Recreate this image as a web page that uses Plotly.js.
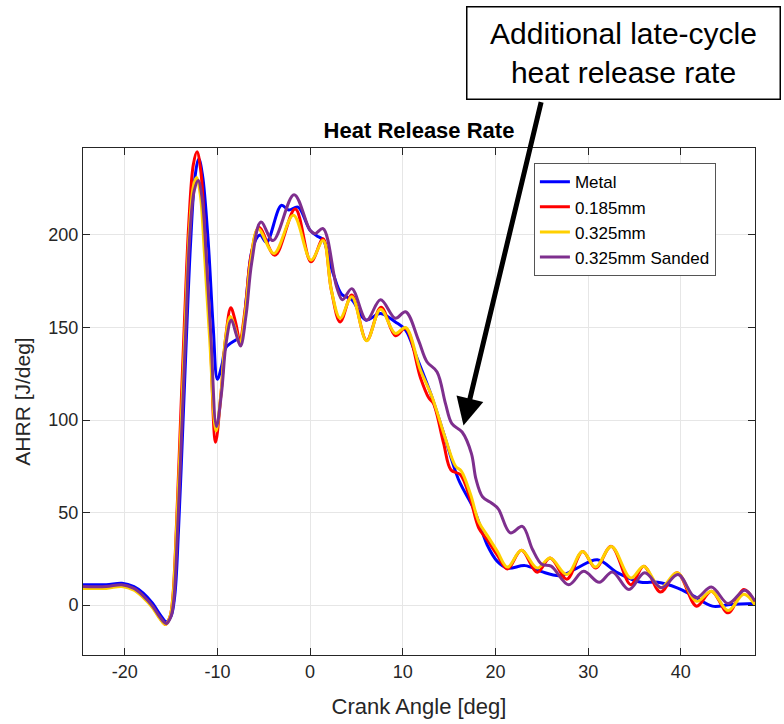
<!DOCTYPE html>
<html>
<head>
<meta charset="utf-8">
<script src="https://cdn.plot.ly/plotly-3.0.1.min.js"></script>
<style>
  html, body { margin: 0; padding: 0; background: #ffffff; }
  #chart { width: 784px; height: 724px; }
</style>
</head>
<body>
<div id="chart"></div>
<script>
// ---- Data ----
const seriesNames = ["Metal", "0.185mm", "0.325mm", "0.325mm Sanded"];

const metalX = [-24.5,-22,-20.3,-19,-18,-17,-16.2,-15.5,-15.0,-14.6,-14.2,-13.7,-13.3,-12.9,-12.4,-12.0,-11.6,-11.0,-10.45,-10.0,-9.5,-9.1,-8.1,-7.4,-6.9,-6.2,-5.4,-4.7,-3.1,-2.3,-1.3,0,0.9,1.4,2.5,3.4,4.5,6.0,7.6,9.2,10.3,11.5,13.0,14.4,16.0,17.7,19.1,20.2,21.3,23.2,24.9,27.0,28.8,31.0,33.2,35.7,37.5,39.6,41.4,43.4,45.4,48];
const metalY = [11,11,11.8,10,6.5,1,-5,-9,-6,5,40,100,150,195,232,241,232,197,150,122,130,139,143,145,165,193,200,196,216,213.5,215,202.5,199,197.5,179,168,165,154,157.6,153,148.6,134,114.5,93,68,51.5,32.6,23.6,20,21.3,18.2,15.9,20,24.5,17.4,12.3,12.3,9.3,4.8,-0.6,0.3,0.8];

const redX = [-24.5,-22,-20.3,-19,-18,-17,-16.2,-15.6,-15.1,-14.8,-14.4,-13.9,-13.5,-13.1,-12.6,-12.2,-11.8,-11.35,-10.8,-10.2,-9.6,-9.1,-8.55,-8.0,-7.6,-7.0,-6.4,-5.5,-3.8,-1.6,0.1,1.4,2.3,3.25,4.5,6.1,7.65,9.2,10.3,11.9,12.8,13.3,14.4,15.2,16.2,17.3,18.2,19.1,20.2,21.3,22.8,24.5,25.9,27.7,29.4,30.8,32.5,34.6,36.0,37.8,39.6,41.7,43.3,45.1,46.8,48];
const redY = [9.5,9.5,10.5,8.5,4.5,-1,-7,-10.5,-6,5,45,110,160,205,238,245,235,200,150,88,115,145,160.6,152,143,160,188,204,189,214,185.5,198,170,153,167.5,143,161,145.5,149.5,123,112,109,87.5,73,70.5,57,41.6,35.3,27,19.5,29.6,17.7,25.4,14,29,20,31.7,11,21,7,17.4,-0.6,7.5,-4.2,8.4,1.5];

const yelX = [-24.5,-22,-20.3,-19,-18,-17,-16.2,-15.6,-15.1,-14.8,-14.4,-13.85,-13.45,-13.05,-12.6,-12.25,-11.85,-11.4,-10.85,-10.15,-9.6,-9.15,-8.6,-8.0,-7.6,-7.0,-6.4,-5.6,-3.9,-1.8,0.1,1.4,2.3,3.25,4.5,6.1,7.6,9.2,10.3,11.9,13.15,14.6,15.7,16.3,17.3,18.2,19.2,20.2,21.3,22.8,24.5,25.9,27.7,29.4,30.8,32.5,34.6,36.0,37.8,39.6,41.7,43.3,45.1,46.8,48];
const yelY = [9,9,10,8,4,-1.5,-7.5,-10.5,-6,4,42,105,155,200,226,231,222,190,145,94,115,143,156,148,141,158,186,203.4,190,210.6,186.4,197,170,155,166.6,142.8,159.8,146.8,150,127,112.6,90,75,72.5,60,45,37,29,20.5,29.6,20,25.4,16.5,29,20.5,31.7,14.6,21,9.3,17.4,2,7.5,-3,5.8,0];

const purX = [-24.5,-22,-20.3,-19,-18,-17,-16.2,-15.5,-15.0,-14.7,-14.3,-13.8,-13.4,-13.0,-12.5,-12.07,-11.65,-11.2,-10.7,-10.1,-9.55,-9.05,-8.5,-7.95,-7.5,-6.9,-6.3,-5.3,-4.0,-1.73,0,0.54,1.4,2.86,3.5,4.5,6.1,7.6,9.2,10.3,11.7,12.6,13.7,14.6,15.3,16.4,17.4,17.9,18.6,19.6,20.3,21.6,22.9,24.0,25.0,26.0,27.9,29.5,31.2,32.6,34.4,36.1,37.9,39.7,41.6,43.3,45.1,46.9,48];
const purY = [10,10,11,9,5,-0.5,-6.5,-10,-6,3,40,100,150,198,224,229.5,220,188,145,96.5,115,142,154,146,140,157,185,207,197,221.8,202.5,200.7,203.4,172,165,171,154,165,155,158.5,143,131.5,126,109,98,93.5,82,68,58.5,55,52,39,42.5,30,22,21,11,18.2,12.3,17.9,8.4,17.4,9.3,16.5,3.9,9.8,0.8,8,2];

const xTicks = [-20, -10, 0, 10, 20, 30, 40];
const yTicks = [0, 50, 100, 150, 200];

const titleText = "Heat Release Rate";
const xTitle = "Crank Angle [deg]";
const yTitle = "AHRR [J/deg]";
const noteText = "Additional late-cycle<br>heat release rate";
const noteTip = [16.55, 97];

// ---- Chart ----
const FONT = "Arial, 'Liberation Sans', Helvetica, sans-serif";
const colors = ["#0000FF", "#FF0000", "#FFD000", "#7E2F8E"];
const xs = [metalX, redX, yelX, purX];
const ys = [metalY, redY, yelY, purY];

const traces = seriesNames.map((n, i) => ({
  type: "scatter",
  mode: "lines",
  name: n,
  x: xs[i],
  y: ys[i],
  line: { color: colors[i], width: 3, shape: "spline", smoothing: 1 }
}));

const axisCommon = {
  showline: true,
  linecolor: "#262626",
  linewidth: 1,
  mirror: "ticks",
  ticks: "inside",
  ticklen: 7,
  tickcolor: "#262626",
  showgrid: true,
  gridcolor: "#e6e6e6",
  gridwidth: 1,
  zeroline: false,
  tickfont: { family: FONT, size: 18, color: "#262626" }
};

const layout = {
  width: 784,
  height: 724,
  margin: { l: 83, r: 29, t: 148, b: 69 },
  paper_bgcolor: "#ffffff",
  plot_bgcolor: "#ffffff",
  showlegend: true,
  title: {
    text: "<b>" + titleText + "</b>",
    font: { family: FONT, size: 22, color: "#000000" },
    x: 0.5, xref: "paper", xanchor: "center",
    y: 0.8204, yref: "container", yanchor: "middle"
  },
  xaxis: Object.assign({}, axisCommon, {
    range: [-24.5, 48],
    tickvals: xTicks,
    ticktext: xTicks.map(String),
    title: { text: xTitle, font: { family: FONT, size: 22, color: "#262626" }, standoff: 18 }
  }),
  yaxis: Object.assign({}, axisCommon, {
    range: [-27, 247],
    tickvals: yTicks,
    ticktext: yTicks.map(String),
    title: { text: yTitle, font: { family: FONT, size: 21, color: "#262626" }, standoff: 12 }
  }),
  legend: {
    x: 0.671, y: 0.970, xanchor: "left", yanchor: "top",
    bgcolor: "#ffffff",
    bordercolor: "#555555",
    borderwidth: 1,
    itemwidth: 30,
    tracegroupgap: 0,
    font: { family: FONT, size: 17, color: "#000000" }
  },
  annotations: [
    {
      xref: "paper", yref: "paper",
      x: 0.804, y: 1.188, xanchor: "center", yanchor: "middle",
      text: noteText,
      showarrow: false,
      font: { family: FONT, size: 30, color: "#000000" },
      align: "center",
      width: 312, height: 91,
      bgcolor: "#ffffff",
      bordercolor: "#000000",
      borderwidth: 1.5,
      borderpad: 0
    },
    {
      xref: "x", yref: "y",
      x: noteTip[0], y: noteTip[1],
      ax: 78, ay: -325,
      axref: "pixel", ayref: "pixel",
      text: "",
      showarrow: true,
      arrowhead: 2,
      arrowsize: 1.1,
      arrowwidth: 5,
      arrowcolor: "#000000"
    }
  ]
};

Plotly.newPlot("chart", traces, layout, { displayModeBar: false, staticPlot: true });
</script>
</body>
</html>
